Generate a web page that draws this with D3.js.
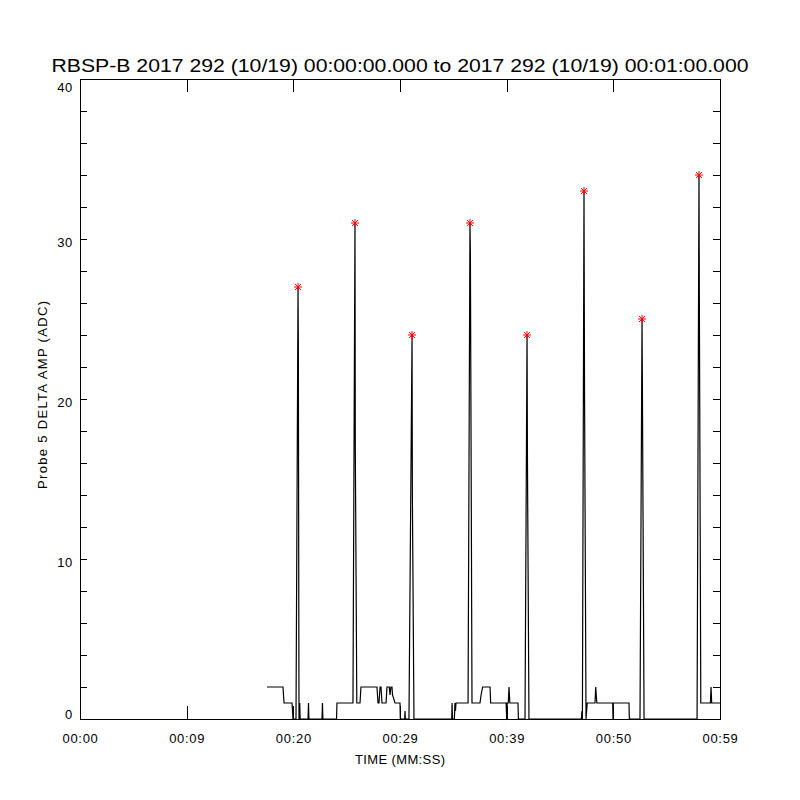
<!DOCTYPE html>
<html>
<head>
<meta charset="utf-8">
<script src="https://cdn.jsdelivr.net/npm/d3@7"></script>
<style>
  body { margin: 0; background: #fff; }
  text { font-family: "Liberation Sans", "DejaVu Sans", sans-serif; fill: #000; }
</style>
</head>
<body>
<script>
// amplitude trace, seconds from 00:00:00 and ADC counts
const time = [
  17.53, 19.03, 19.13, 19.88, 19.97,
  20.25, 20.44, 20.47, 20.53, 20.60, 20.64,
  21.38, 21.42, 21.46,
  22.69, 22.73, 22.77,
  24.05, 24.09, 25.59, 25.78, 25.81, 25.95, 26.25, 26.34,
  27.84, 27.94, 28.03, 28.13, 28.22, 28.31, 28.69, 28.78, 29.00, 29.06, 29.15, 29.25, 29.30, 29.53, 30.00, 30.03, 30.44, 30.47, 30.50,
  30.84, 31.13, 31.16, 31.31,
  34.85, 34.88, 34.92, 35.10, 35.15, 35.20, 35.25, 36.38, 36.56, 36.60, 36.75, 37.50, 37.60, 37.75, 38.44, 38.50, 39.95, 40.00, 40.05, 40.15, 40.22, 40.30, 41.06, 41.10,
  41.72, 41.91, 41.95, 42.09,
  47.00, 47.06, 47.10, 47.25, 47.30, 47.44, 47.55, 48.28, 48.35, 48.45, 49.94, 49.97, 50.00, 51.47, 51.50,
  52.50, 52.69, 52.72, 52.88,
  57.85, 58.03, 58.06, 58.20, 59.10, 59.16, 59.22, 60.00
];
const amp = [
  2, 2, 1, 1, 0,
  0, 27, 23.5, 0, 1, 0,
  0, 1, 0,
  0, 1, 0,
  0, 1, 1, 31, 17, 1, 1, 2,
  2, 1, 1, 2, 2, 1, 1, 2, 2, 1.5, 2, 2, 1.5, 1, 1, 0, 0, 0.5, 0,
  0, 24, 14, 0,
  0, 1, 0, 0, 1, 0.5, 1, 1, 31, 29, 1, 1, 1.5, 2, 2, 1, 1, 0, 1, 1, 2, 1, 1, 0,
  0, 24, 16, 0,
  0, 0.5, 0, 33, 20.5, 0, 1, 1, 2, 1, 1, 0, 1, 1, 0,
  0, 25, 21.5, 0,
  0, 34, 27, 1, 1, 2, 1, 1
];

// peaks flagged with red asterisks
const peakTime = [20.44, 25.78, 31.13, 36.56, 41.91, 47.25, 52.69, 58.03];
const peakAmp = [27, 31, 24, 31, 24, 33, 25, 34];

const xTicks = [0, 10, 20, 30, 40, 50, 60];
const xTickLabels = ["00:00", "00:09", "00:20", "00:29", "00:39", "00:50", "00:59"];
const yTicks = [0, 10, 20, 30, 40];
const yMinor = d3.range(0, 41, 2);

const titleText = "RBSP-B 2017 292 (10/19) 00:00:00.000 to 2017 292 (10/19) 00:01:00.000";
const xTitle = "TIME (MM:SS)";
const yTitle = "Probe 5 DELTA AMP (ADC)";

const margin = { top: 79, right: 80, bottom: 81, left: 80 };
const width = 800 - margin.left - margin.right;
const height = 800 - margin.top - margin.bottom;

const svg = d3.select('body')
  .append('svg')
  .attr('width', 800)
  .attr('height', 800);

const g = svg.append('g')
  .attr('transform', 'translate(' + margin.left + ',' + margin.top + ')');

let xScale = d3.scaleLinear().domain([0, 60]).range([0, width]);
let yScale = d3.scaleLinear().domain([0, 40]).range([height, 0]);

// bottom axis with labels, ticks pointing inward
g.append('g')
  .attr('class', 'x-axis')
  .attr('transform', 'translate(0,' + height + ')')
  .call(d3.axisBottom(xScale)
    .tickValues(xTicks)
    .tickSize(-13)
    .tickPadding(24)
    .tickFormat((d, i) => xTickLabels[i]));

// top axis, ticks only
g.append('g')
  .attr('class', 'x-axis-top')
  .call(d3.axisTop(xScale).tickValues(xTicks).tickSize(-13).tickFormat(''));

// left axis, every 2 counts, labels every 10
g.append('g')
  .attr('class', 'y-axis')
  .call(d3.axisLeft(yScale)
    .tickValues(yMinor)
    .tickSize(-7)
    .tickPadding(7)
    .tickFormat(d => yTicks.includes(d) ? d : ''));

g.append('g')
  .attr('class', 'y-axis-right')
  .attr('transform', 'translate(' + width + ',0)')
  .call(d3.axisRight(yScale).tickValues(yMinor).tickSize(-7).tickFormat(''));

g.selectAll('.domain').remove();
g.selectAll('.tick line')
  .attr('stroke', '#000')
  .attr('shape-rendering', 'crispEdges');

g.selectAll('.x-axis text')
  .attr('font-size', 13)
  .attr('letter-spacing', '0.7px')
  .attr('dy', 0);
g.selectAll('.y-axis text')
  .attr('font-size', 13)
  .attr('letter-spacing', '0.7px')
  .attr('dy', d => d === 0 ? '-0.05em' : (d === 40 ? '0.95em' : '0.55em'));

// frame
g.append('rect')
  .attr('x', 0)
  .attr('y', 0)
  .attr('width', width)
  .attr('height', height)
  .attr('fill', 'none')
  .attr('stroke', '#000')
  .attr('shape-rendering', 'crispEdges');

// trace
const series = time.map((t, i) => ({ t: t, v: amp[i] }));
const line = d3.line()
  .x(d => xScale(d.t))
  .y(d => yScale(d.v));

g.append('path')
  .datum(series)
  .attr('d', line)
  .attr('fill', 'none')
  .attr('stroke', '#000')
  .attr('stroke-width', 1.2);

// asterisk markers
const star = 'M-4,0H4M0,-4V4M-3,-3L3,3M-3,3L3,-3';
g.selectAll('.peak')
  .data(peakTime.map((t, i) => ({ t: t, v: peakAmp[i] })))
  .enter()
  .append('path')
  .attr('class', 'peak')
  .attr('transform', d => 'translate(' + xScale(d.t) + ',' + yScale(d.v) + ')')
  .attr('d', star)
  .attr('fill', 'none')
  .attr('stroke', '#ff0000')
  .attr('stroke-width', 1);

// titles
svg.append('text')
  .attr('x', 400)
  .attr('y', 72)
  .attr('text-anchor', 'middle')
  .attr('font-size', 18)
  .attr('textLength', 697)
  .attr('lengthAdjust', 'spacingAndGlyphs')
  .text(titleText);

svg.append('text')
  .attr('x', 400)
  .attr('y', 764)
  .attr('text-anchor', 'middle')
  .attr('font-size', 13)
  .attr('textLength', 90)
  .attr('lengthAdjust', 'spacing')
  .text(xTitle);

svg.append('text')
  .attr('transform', 'translate(47,395) rotate(-90)')
  .attr('text-anchor', 'middle')
  .attr('font-size', 13)
  .attr('textLength', 188)
  .attr('lengthAdjust', 'spacing')
  .text(yTitle);
</script>
</body>
</html>
